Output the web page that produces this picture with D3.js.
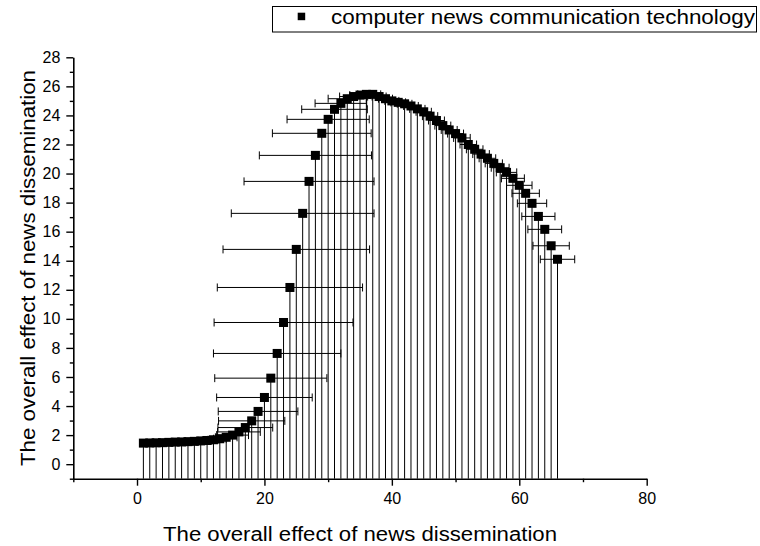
<!DOCTYPE html>
<html>
<head>
<meta charset="utf-8">
<script src="https://cdn.jsdelivr.net/npm/d3@7"></script>
<style>
  html, body { margin: 0; padding: 0; background: #fff; }
  svg { display: block; font-family: "Liberation Sans", Arial, sans-serif; }
</style>
</head>
<body>
<svg id="chart" width="760" height="546"></svg>
<script>
// Sample positions along the horizontal axis
const xValues = [1,2,3,4,5,6,7,8,9,10,11,12,13,14,15,16,17,18,19,20,21,22,
  23,24,25,26,27,28,29,30,31,32,33,34,35,36,37,38,39,40,41,42,43,44,45,46,47,
  48,49,50,51,52,53,54,55,56,57,58,59,60,61,62,63,64,65,66];

// Overall effect values for each sample
const yValues = [1.45,1.46,1.47,1.48,1.50,1.52,1.53,1.55,1.57,1.60,1.63,1.68,
  1.75,1.85,2.00,2.22,2.52,2.98,3.63,4.59,5.92,7.62,9.75,12.16,14.78,17.26,
  19.46,21.25,22.77,23.73,24.42,24.83,25.15,25.30,25.40,25.45,25.45,25.30,
  25.15,25.00,24.90,24.80,24.65,24.45,24.25,23.95,23.65,23.30,23.00,22.75,
  22.45,22.00,21.67,21.34,21.05,20.70,20.40,20.08,19.67,19.19,18.64,17.95,
  17.05,16.16,15.03,14.10];

// Horizontal error (half-width) for each sample
const xErrors = [0.4,0.4,0.4,0.4,0.4,0.4,0.4,0.4,0.4,0.4,0.75,0.85,1.0,1.7,
  2.5,3.35,4.3,5.2,6.25,7.5,8.8,10.0,10.9,11.4,11.5,11.2,10.2,8.8,7.75,6.45,
  5.15,4.05,3.0,2.2,1.6,1.35,1.25,1.1,1.1,1.1,1.15,1.15,1.15,1.2,1.2,1.2,1.25,
  1.25,1.25,1.25,1.3,1.3,1.3,1.3,1.3,1.35,1.4,1.6,1.8,2.0,2.15,2.3,2.6,2.65,
  2.85,2.7];

const xMajorTicks = [0, 20, 40, 60, 80];
const xMinorTicks = [-10, 10, 30, 50, 70];
const yMajorTicks = [0,2,4,6,8,10,12,14,16,18,20,22,24,26,28];
const yMinorTicks = [-1,1,3,5,7,9,11,13,15,17,19,21,23,25,27];

const seriesName = "computer news communication technology";
const xTitle = "The overall effect of news dissemination";
const yTitle = "The overall effect of news dissemination";

const points = xValues.map((x, i) => ({ x, y: yValues[i], e: xErrors[i] }));

const svg = d3.select("#chart");
const plot = { left: 73.3, right: 646.7, top: 57.3, bottom: 478.7 };

const x = d3.scaleLinear().domain([-10, 80]).range([plot.left, plot.right]);
const y = d3.scaleLinear().domain([-1, 28]).range([plot.bottom, plot.top]);

// Drop lines from each point down to the horizontal axis
svg.append("g")
  .selectAll("line")
  .data(points)
  .join("line")
  .attr("x1", d => x(d.x)).attr("x2", d => x(d.x))
  .attr("y1", d => y(d.y)).attr("y2", y(-1))
  .attr("stroke", "#000").attr("stroke-width", 1);

// Horizontal error bars with end caps
const capHalf = 4;
const eb = svg.append("g").attr("stroke", "#000").attr("stroke-width", 1);
eb.selectAll("line.bar")
  .data(points)
  .join("line").attr("class", "bar")
  .attr("x1", d => x(d.x - d.e)).attr("x2", d => x(d.x + d.e))
  .attr("y1", d => y(d.y)).attr("y2", d => y(d.y));
eb.selectAll("line.capL")
  .data(points)
  .join("line").attr("class", "capL")
  .attr("x1", d => x(d.x - d.e)).attr("x2", d => x(d.x - d.e))
  .attr("y1", d => y(d.y) - capHalf).attr("y2", d => y(d.y) + capHalf);
eb.selectAll("line.capR")
  .data(points)
  .join("line").attr("class", "capR")
  .attr("x1", d => x(d.x + d.e)).attr("x2", d => x(d.x + d.e))
  .attr("y1", d => y(d.y) - capHalf).attr("y2", d => y(d.y) + capHalf);

// Square markers
const ms = 9;
svg.append("g")
  .selectAll("rect")
  .data(points)
  .join("rect")
  .attr("x", d => x(d.x) - ms / 2)
  .attr("y", d => y(d.y) - ms / 2)
  .attr("width", ms).attr("height", ms)
  .attr("fill", "#000");

// Axes
function styleAxis(g) {
  g.select(".domain").attr("stroke", "#000").attr("stroke-width", 1.6);
  g.selectAll(".tick line").attr("stroke", "#000").attr("stroke-width", 1.4);
  g.selectAll(".tick text")
    .attr("font-family", "'Liberation Sans', Arial, sans-serif")
    .attr("font-size", 16).attr("fill", "#000");
}

svg.append("g")
  .attr("transform", `translate(0,${plot.bottom})`)
  .call(d3.axisBottom(x).tickValues(xMinorTicks).tickSize(3.5).tickFormat(""))
  .call(g => { g.select(".domain").remove(); styleAxis(g); });
svg.append("g")
  .attr("transform", `translate(0,${plot.bottom})`)
  .call(d3.axisBottom(x).tickValues(xMajorTicks).tickSize(7).tickSizeOuter(0).tickPadding(7).tickFormat(d3.format("d")))
  .call(styleAxis);

svg.append("g")
  .attr("transform", `translate(${plot.left},0)`)
  .call(d3.axisLeft(y).tickValues(yMinorTicks).tickSize(3.5).tickFormat(""))
  .call(g => { g.select(".domain").remove(); styleAxis(g); });
svg.append("g")
  .attr("transform", `translate(${plot.left},0)`)
  .call(d3.axisLeft(y).tickValues(yMajorTicks).tickSize(7).tickSizeOuter(0).tickPadding(6).tickFormat(d3.format("d")))
  .call(styleAxis);

// Axis titles
svg.append("text")
  .attr("x", (plot.left + plot.right) / 2).attr("y", 541)
  .attr("text-anchor", "middle")
  .attr("font-size", 20)
  .attr("textLength", 394).attr("lengthAdjust", "spacingAndGlyphs")
  .text(xTitle);

svg.append("text")
  .attr("transform", `translate(34.5,${(plot.top + plot.bottom) / 2}) rotate(-90)`)
  .attr("text-anchor", "middle")
  .attr("font-size", 20)
  .attr("textLength", 396).attr("lengthAdjust", "spacingAndGlyphs")
  .text(yTitle);

// Legend
const legend = svg.append("g");
legend.append("rect")
  .attr("x", 272.5).attr("y", 6.5).attr("width", 484).attr("height", 25.5)
  .attr("fill", "#fff").attr("stroke", "#000").attr("stroke-width", 1);
legend.append("rect")
  .attr("x", 297.7).attr("y", 12.7).attr("width", 7.5).attr("height", 7.5)
  .attr("fill", "#000");
legend.append("text")
  .attr("x", 331).attr("y", 23.5)
  .attr("font-size", 20)
  .attr("textLength", 424).attr("lengthAdjust", "spacingAndGlyphs")
  .text(seriesName);
</script>
</body>
</html>
